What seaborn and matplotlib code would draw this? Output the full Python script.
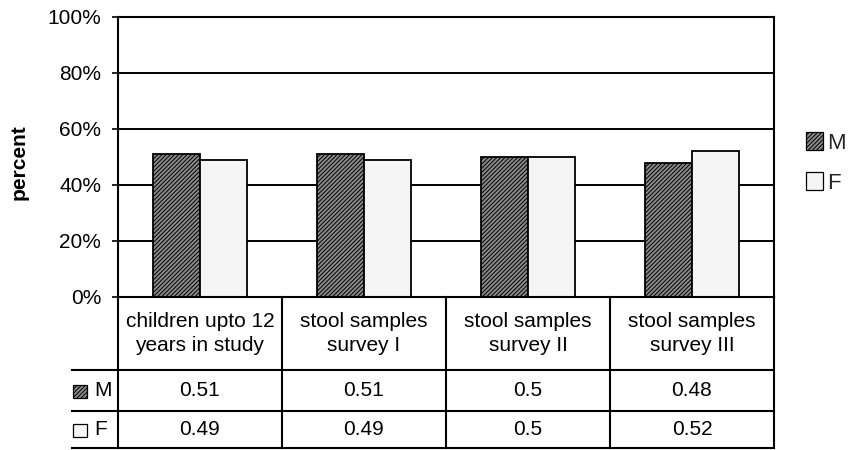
import matplotlib
matplotlib.use("Agg")
import matplotlib.pyplot as plt
from matplotlib.patches import Patch, Rectangle
import pandas as pd
import seaborn as sns

# Data
categories = [
    "children upto 12\nyears in study",
    "stool samples\nsurvey I",
    "stool samples\nsurvey II",
    "stool samples\nsurvey III",
]
series_names = ["M", "F"]
male_share = [0.51, 0.51, 0.5, 0.48]
female_share = [0.49, 0.49, 0.5, 0.52]
y_ticks = [0, 20, 40, 60, 80, 100]

sns.set_theme(style="white")
plt.rcParams["font.family"] = ["Liberation Sans", "DejaVu Sans"]
plt.rcParams["hatch.linewidth"] = 0.7

FS = 15
W, H = 850, 450
fig = plt.figure(figsize=(8.5, 4.5), dpi=100)
fig.patch.set_facecolor("white")


def fx(px):
    return px / W


def fy(py):
    return 1 - py / H


PLOT_L, PLOT_R, PLOT_T, PLOT_B, TABLE_B = 118, 774, 17, 297, 448
ax = fig.add_axes([fx(PLOT_L), fy(PLOT_B), fx(PLOT_R) - fx(PLOT_L), fy(PLOT_T) - fy(PLOT_B)])

df = pd.DataFrame({
    "category": categories * 2,
    "sex": ["M"] * len(categories) + ["F"] * len(categories),
    "percent": [v * 100 for v in male_share + female_share],
})
palette = {"M": "#8a8a8a", "F": "#f5f5f5"}
hatches = {"M": "////////", "F": ""}

sns.barplot(
    data=df, x="category", y="percent", hue="sex",
    order=categories, hue_order=series_names, palette=palette,
    width=0.575, gap=0, saturation=1, edgecolor="black", linewidth=1.3,
    errorbar=None, legend=False, ax=ax,
)
for name, cont in zip(series_names, ax.containers):
    for bar in cont:
        bar.set_hatch(hatches[name])

ax.set_xlim(-0.5, len(categories) - 0.5)
ax.set_ylim(0, 100)
ax.set_yticks(y_ticks)
ax.set_yticklabels([f"{t}%" for t in y_ticks])
ax.set_xticks([])
ax.set_xlabel("")
ax.set_ylabel("")
ax.yaxis.grid(True, color="black", linewidth=1.4)
ax.set_axisbelow(True)
for sp in ax.spines.values():
    sp.set_visible(True)
    sp.set_color("black")
    sp.set_linewidth(1.5)
ax.tick_params(axis="y", left=True, length=4, width=1.2, color="black",
               pad=8, labelsize=FS, labelcolor="black")

fig.text(fx(19), fy(162), "percent", rotation=90, fontweight="bold",
         fontsize=FS, ha="center", va="center", color="black")

# Data table under the plot
tax = fig.add_axes([fx(PLOT_L), fy(TABLE_B), fx(PLOT_R) - fx(PLOT_L), fy(PLOT_B) - fy(TABLE_B)])
row_edges = [0, 73, 114, 151]
px_per_cat = (PLOT_R - PLOT_L) / len(categories)
tax.set_xlim(-0.5, len(categories) - 0.5)
tax.set_ylim(row_edges[-1], 0)
tax.axis("off")

key_left = -0.5 - 46 / px_per_cat
lw = 1.5
for b in [i - 0.5 for i in range(len(categories) + 1)]:
    tax.plot([b, b], [row_edges[0], row_edges[-1]], color="black", lw=lw,
             clip_on=False, solid_capstyle="projecting")
for r in row_edges[1:]:
    tax.plot([key_left, len(categories) - 0.5], [r, r], color="black", lw=lw,
             clip_on=False, solid_capstyle="projecting")

head_c = (row_edges[0] + row_edges[1]) / 2
for i, cat in enumerate(categories):
    tax.text(i, head_c, cat, ha="center", va="center", fontsize=FS,
             linespacing=1.3, color="black")

series_values = {"M": male_share, "F": female_share}
for k, name in enumerate(series_names):
    rc = (row_edges[k + 1] + row_edges[k + 2]) / 2
    for i, v in enumerate(series_values[name]):
        tax.text(i, rc, f"{v:g}", ha="center", va="center", fontsize=FS,
                 color="black")
    tax.add_patch(Rectangle((-0.5 - 45 / px_per_cat, rc - 6), 14 / px_per_cat, 13,
                            facecolor=palette[name], edgecolor="black", lw=0.9,
                            hatch=hatches[name], clip_on=False))
    tax.text(-0.5 - 24 / px_per_cat, rc, name, ha="left", va="center",
             fontsize=FS, color="black")

# Legend at the right
handles = [Patch(facecolor=palette[n], edgecolor="black", lw=0.9, hatch=hatches[n])
           for n in series_names]
fig.legend(handles, series_names, loc="center left",
           bbox_to_anchor=(fx(806), fy(163)), frameon=False, fontsize=FS + 1,
           handlelength=0.75, handleheight=0.85, handletextpad=0.2,
           labelspacing=0.85, borderpad=0, borderaxespad=0)

fig.savefig("out.png", dpi=100, facecolor="white")
